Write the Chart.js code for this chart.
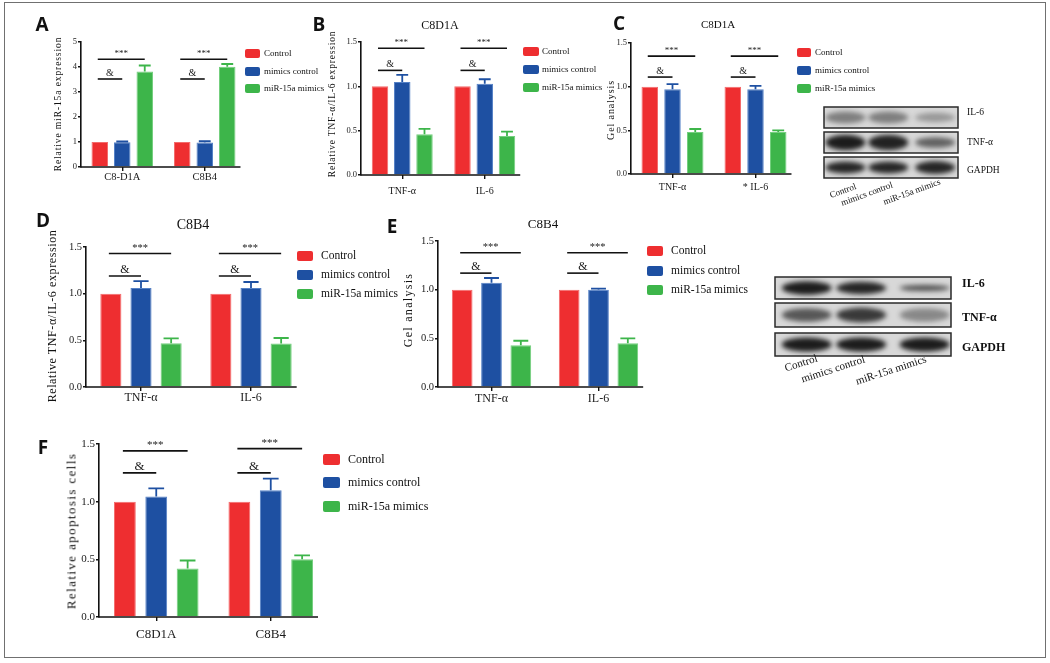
<!DOCTYPE html>
<html>
<head>
<meta charset="utf-8">
<script src="https://cdn.jsdelivr.net/npm/chart.js@4.4.1/dist/chart.umd.min.js"></script>
<style>
  body { margin: 0; background: #fff; width: 1050px; height: 663px; overflow: hidden; position: relative; font-family: 'Liberation Serif', 'Times New Roman', serif; }
  #frame { position: absolute; left: 4px; top: 2px; width: 1040px; height: 654px; border: 1.5px solid #707070; }
  canvas { position: absolute; }
  .t { position: absolute; white-space: nowrap; color: #111; line-height: 1; }
  .letter { font-family: 'Open Sans', 'Liberation Sans', sans-serif; font-weight: 700; }
  .sw { position: absolute; border-radius: 2px; }
</style>
</head>
<body>
<div id="frame"></div>
<canvas id="blots" width="1050" height="663" style="left:0;top:0;width:1050px;height:663px"></canvas>
<script>
// ---- data ----
const seriesNames = ['Control', 'mimics control', 'miR-15a mimics'];
const seriesColors = ['#ee2e30', '#1e50a2', '#3db54a'];
const edgeColors = ['#f36b6b', '#5581c6', '#74cf7e'];

const cellLines = ['C8-D1A', 'C8B4'];
const cellLinesF = ['C8D1A', 'C8B4'];
const cytokines = ['TNF-α', 'IL-6'];
const cytokinesC = ['TNF-α', '* IL-6'];

const aTicks = [0, 1, 2, 3, 4, 5];
const aTickLabels = ['0', '1', '2', '3', '4', '5'];
const relTicks = [0, 0.5, 1.0, 1.5];
const relTickLabels = ['0.0', '0.5', '1.0', '1.5'];

// rows: Control, mimics control, miR-15a mimics; one value per group
const aMeans = [[1, 1], [0.99, 0.98], [3.82, 4.01]];
const aErrs = [[0, 0], [0.03, 0.05], [0.24, 0.11]];
const bMeans = [[1, 1], [1.05, 1.03], [0.46, 0.44]];
const bErrs = [[0, 0], [0.08, 0.05], [0.06, 0.05]];
const cMeans = [[1, 1], [0.97, 0.97], [0.48, 0.48]];
const cErrs = [[0, 0], [0.06, 0.04], [0.035, 0.02]];
const dMeans = [[1, 1], [1.06, 1.06], [0.47, 0.465]];
const dErrs = [[0, 0], [0.075, 0.065], [0.05, 0.06]];
const eMeans = [[1, 1], [1.07, 1.0], [0.43, 0.45]];
const eErrs = [[0, 0], [0.05, 0.01], [0.045, 0.05]];
const fMeans = [[1, 1], [1.045, 1.10], [0.42, 0.50]];
const fErrs = [[0, 0], [0.07, 0.10], [0.07, 0.035]];

// significance bracket heights (data units), per group
const aStars = [4.31, 4.31], aAmps = [3.52, 3.52];
const bStars = [1.43, 1.43], bAmps = [1.18, 1.18];
const cStars = [1.35, 1.35], cAmps = [1.11, 1.11];
const dStars = [1.43, 1.43], dAmps = [1.19, 1.19];
const eStars = [1.38, 1.38], eAmps = [1.17, 1.17];
const fStars = [1.44, 1.46], fAmps = [1.25, 1.25];

// western blot band strength per row (lanes: Control, mimics control, miR-15a mimics)
const blotRows = ['IL-6', 'TNF-α', 'GAPDH'];
const blotC = [[0.45, 0.45, 0.32], [0.95, 0.92, 0.6], [0.9, 0.9, 0.9]];
const blotThickC = [[1, 1, 0.8], [1.3, 1.3, 0.9], [1, 1, 1.1]];
const blotE = [[0.95, 0.9, 0.7], [0.65, 0.8, 0.4], [0.95, 0.95, 0.95]];
const blotThickE = [[1.1, 1, 0.5], [1, 1.1, 1], [1.1, 1.1, 1.1]];

const SERIF = "'Liberation Serif', 'Times New Roman', serif";
const PT = 24, PR = 8, YW = 44, XH = 34;

function makeDecor(p) {
  return {
    id: 'decor',
    afterDatasetsDraw(chart) {
      const ctx = chart.ctx, ys = chart.scales.y, area = chart.chartArea;
      const metas = p.means.map((_, i) => chart.getDatasetMeta(i));
      ctx.save();
      // error bars, same colour as the bar
      metas.forEach((m, i) => m.data.forEach((bar, j) => {
        const e = p.errs[i][j];
        if (!e) return;
        const top = ys.getPixelForValue(p.means[i][j] + e);
        const half = bar.width * 0.36;
        ctx.strokeStyle = seriesColors[i];
        ctx.lineWidth = 1.8;
        ctx.beginPath();
        ctx.moveTo(bar.x, bar.y); ctx.lineTo(bar.x, top);
        ctx.moveTo(bar.x - half, top); ctx.lineTo(bar.x + half, top);
        ctx.stroke();
      }));
      // x axis line, stops just after the last bar
      const lastMeta = metas[metas.length - 1];
      const last = lastMeta.data[lastMeta.data.length - 1];
      ctx.strokeStyle = '#111';
      ctx.lineWidth = 1.6;
      ctx.beginPath();
      ctx.moveTo(area.left - 0.8, area.bottom);
      ctx.lineTo(last.x + last.width / 2 + 5, area.bottom);
      ctx.stroke();
      // significance brackets
      ctx.fillStyle = '#222';
      ctx.textAlign = 'center';
      ctx.textBaseline = 'alphabetic';
      p.labels.forEach((_, j) => {
        const x0 = metas[0].data[j].x - 2;
        [[2, p.stars[j], '***', p.starFont], [1, p.amps[j], '&', p.ampFont]].forEach(([k, lvl, txt, fs]) => {
          const x1 = metas[k].data[j].x;
          const yy = ys.getPixelForValue(lvl);
          ctx.lineWidth = 1.6;
          ctx.beginPath(); ctx.moveTo(x0, yy); ctx.lineTo(x1, yy); ctx.stroke();
          ctx.font = fs + 'px ' + SERIF;
          ctx.fillText(txt, (x0 + x1) / 2, yy - 3);
        });
      });
      ctx.restore();
    }
  };
}

function buildPanel(p) {
  const cv = document.createElement('canvas');
  const L = Math.round(p.left), R = Math.round(p.right), T = Math.round(p.top), B = Math.round(p.bottom);
  const W = R - L + YW + PR, H = B - T + PT + XH;
  cv.width = W; cv.height = H;
  cv.style.left = (L - YW) + 'px';
  cv.style.top = (T - PT) + 'px';
  cv.style.width = W + 'px';
  cv.style.height = H + 'px';
  document.body.appendChild(cv);
  return new Chart(cv.getContext('2d'), {
    type: 'bar',
    data: {
      labels: p.labels,
      datasets: p.means.map((vals, i) => ({
        label: seriesNames[i],
        data: vals,
        backgroundColor: seriesColors[i],
        borderColor: edgeColors[i],
        borderWidth: 1,
        categoryPercentage: p.catPct,
        barPercentage: p.barPct
      }))
    },
    options: {
      responsive: false,
      animation: false,
      devicePixelRatio: 1,
      layout: { padding: { top: PT, right: PR, left: 0, bottom: 0 } },
      plugins: { legend: { display: false }, tooltip: { enabled: false } },
      scales: {
        x: {
          afterFit: s => { s.height = XH; },
          grid: { display: true, drawOnChartArea: false, offset: false, tickLength: 4, color: '#111', lineWidth: 1.4 },
          border: { display: false },
          ticks: { font: { family: SERIF, size: p.xFont }, color: '#1a1a1a', padding: p.xPad, maxRotation: 0, autoSkip: false }
        },
        y: {
          min: 0,
          max: p.ticks[p.ticks.length - 1],
          afterFit: s => { s.width = YW; },
          afterBuildTicks: s => { s.ticks = p.ticks.map(v => ({ value: v })); },
          grid: { display: true, drawOnChartArea: false, tickLength: 3, color: '#111', lineWidth: 1.4 },
          border: { display: true, color: '#111', width: 1.6 },
          ticks: { font: { family: SERIF, size: p.yFont }, color: '#1a1a1a', padding: 1, callback: (v, i) => p.tickLabels[i] }
        }
      }
    },
    plugins: [makeDecor(p)]
  });
}

function text(str, x, y, size, o = {}) {
  const d = document.createElement('div');
  d.className = 't' + (o.cls ? ' ' + o.cls : '');
  d.textContent = str;
  d.style.left = x + 'px';
  d.style.top = y + 'px';
  d.style.fontSize = size + 'px';
  if (o.spacing) d.style.letterSpacing = o.spacing + 'px';
  if (o.bold) d.style.fontWeight = 'bold';
  const anchor = o.left ? 'translate(0,-50%)' : 'translate(-50%,-50%)';
  d.style.transform = anchor + (o.rot ? ' rotate(' + o.rot + 'deg)' : '');
  document.body.appendChild(d);
}

function legend(x, ys, w, h, size, textX) {
  seriesNames.forEach((name, i) => {
    const s = document.createElement('div');
    s.className = 'sw';
    s.style.left = x + 'px';
    s.style.top = (ys[i] - h / 2) + 'px';
    s.style.width = w + 'px';
    s.style.height = h + 'px';
    s.style.background = seriesColors[i];
    document.body.appendChild(s);
    text(name, textX, ys[i], size, { left: true });
  });
}

function drawBlot(ctx, box, strength, thick) {
  box.rows.forEach((r, ri) => {
    ctx.save();
    ctx.beginPath();
    ctx.rect(box.x, r.y, box.w, r.h);
    ctx.clip();
    ctx.fillStyle = '#d8d8d8';
    ctx.fillRect(box.x, r.y, box.w, r.h);
    ctx.filter = 'blur(2.5px)';
    box.lanes.forEach((f, k) => {
      ctx.fillStyle = 'rgba(18,18,18,' + strength[ri][k] + ')';
      ctx.beginPath();
      ctx.ellipse(box.x + box.w * f, r.y + r.h / 2, box.band / 2, r.h * 0.28 * thick[ri][k], 0, 0, Math.PI * 2);
      ctx.fill();
    });
    ctx.restore();
    ctx.strokeStyle = '#2a2a2a';
    ctx.lineWidth = 1.5;
    ctx.strokeRect(box.x, r.y, box.w, r.h);
  });
}

// ---- panels ----
buildPanel({ labels: cellLines, means: aMeans, errs: aErrs, ticks: aTicks, tickLabels: aTickLabels, stars: aStars, amps: aAmps,
  left: 81, right: 246, top: 42, bottom: 167, catPct: 0.818, barPct: 0.733, xFont: 10.5, yFont: 8.5, xPad: 0, starFont: 9, ampFont: 10 });
buildPanel({ labels: cytokines, means: bMeans, errs: bErrs, ticks: relTicks, tickLabels: relTickLabels, stars: bStars, amps: bAmps,
  left: 361, right: 526, top: 42, bottom: 175, catPct: 0.809, barPct: 0.74, xFont: 10, yFont: 8.5, xPad: 6, starFont: 9, ampFont: 10 });
buildPanel({ labels: cytokinesC, means: cMeans, errs: cErrs, ticks: relTicks, tickLabels: relTickLabels, stars: cStars, amps: cAmps,
  left: 631, right: 797, top: 43, bottom: 174, catPct: 0.822, barPct: 0.725, xFont: 10, yFont: 8.5, xPad: 3, starFont: 9, ampFont: 10 });
buildPanel({ labels: cytokines, means: dMeans, errs: dErrs, ticks: relTicks, tickLabels: relTickLabels, stars: dStars, amps: dAmps,
  left: 86, right: 306, top: 247, bottom: 387, catPct: 0.822, barPct: 0.70, xFont: 12, yFont: 10.5, xPad: 0, starFont: 10.5, ampFont: 12 });
buildPanel({ labels: cytokines, means: eMeans, errs: eErrs, ticks: relTicks, tickLabels: relTickLabels, stars: eStars, amps: eAmps,
  left: 438, right: 652, top: 241, bottom: 387, catPct: 0.822, barPct: 0.706, xFont: 12, yFont: 10.5, xPad: 1, starFont: 10.5, ampFont: 12 });
buildPanel({ labels: cellLinesF, means: fMeans, errs: fErrs, ticks: relTicks, tickLabels: relTickLabels, stars: fStars, amps: fAmps,
  left: 99, right: 328, top: 444, bottom: 617, catPct: 0.822, barPct: 0.696, xFont: 13, yFont: 11, xPad: 6, starFont: 11, ampFont: 13 });

// ---- panel letters, titles, axis titles ----
[['A', 42, 24], ['B', 319, 24], ['C', 619, 23], ['D', 43, 220], ['E', 392, 226], ['F', 43, 447]]
  .forEach(([l, x, y]) => text(l, x, y, 19, { cls: 'letter' }));
text('C8D1A', 440, 25, 12);
text('C8D1A', 718, 24, 11);
text('C8B4', 193, 225, 14);
text('C8B4', 543, 223, 13);

text('Relative miR-15a expression', 59, 104, 9.5, { rot: -90, spacing: 0.9 });
text('Relative TNF-α/IL-6 expression', 333, 104, 9.5, { rot: -90, spacing: 0.8 });
text('Gel analysis', 611, 110, 10, { rot: -90, spacing: 0.9 });
text('Relative TNF-α/IL-6 expression', 52, 316, 12, { rot: -90, spacing: 0.6 });
text('Gel analysis', 408, 310, 12, { rot: -90, spacing: 1.3 });
text('Relative apoptosis cells', 71, 531, 13, { rot: -90, spacing: 1.4 });

// ---- legends ----
legend(245, [53, 71, 88], 15, 9, 9, 264);
legend(523, [51, 69, 87], 16, 9, 9, 542);
legend(797, [52, 70, 88], 14, 9, 9, 815);
legend(297, [256, 275, 294], 16, 10, 11.5, 321);
legend(647, [251, 271, 290], 16, 10, 11.5, 671);
legend(323, [459, 482, 506], 17, 11, 12, 348);

// ---- western blots ----
const bctx = document.getElementById('blots').getContext('2d');
drawBlot(bctx, { x: 824, w: 134, band: 40, lanes: [0.16, 0.48, 0.83],
  rows: [{ y: 107, h: 21 }, { y: 132, h: 21 }, { y: 157, h: 21 }] }, blotC, blotThickC);
drawBlot(bctx, { x: 775, w: 176, band: 50, lanes: [0.18, 0.49, 0.85],
  rows: [{ y: 277, h: 22 }, { y: 303, h: 24 }, { y: 333, h: 23 }] }, blotE, blotThickE);

text(blotRows[0], 967, 113, 9.5, { left: true });
text(blotRows[1], 967, 143, 9.5, { left: true });
text(blotRows[2], 967, 171, 9.5, { left: true });
text(blotRows[0], 962, 283, 12, { left: true, bold: true });
text(blotRows[1], 962, 317, 12, { left: true, bold: true });
text(blotRows[2], 962, 347, 12, { left: true, bold: true });

text(seriesNames[0], 843, 191, 9, { rot: -20 });
text(seriesNames[1], 867, 194, 9, { rot: -20 });
text(seriesNames[2], 912, 192, 9, { rot: -20 });
text(seriesNames[0], 801, 363, 11, { rot: -18 });
text(seriesNames[1], 833, 369, 11, { rot: -18 });
text(seriesNames[2], 891, 370, 11, { rot: -18 });
</script>
</body>
</html>
